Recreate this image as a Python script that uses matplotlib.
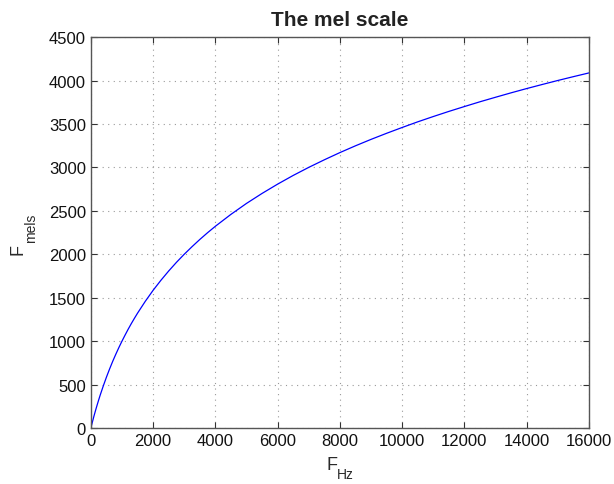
import matplotlib
matplotlib.use("Agg")
import matplotlib.pyplot as plt

freq_hz = [0, 25, 50, 100, 150, 200, 250, 300, 400, 500, 600, 700, 750, 800, 900,
           1000, 1100, 1200, 1300, 1400, 1500, 1750, 2000, 2250, 2500, 2750, 3000,
           3250, 3500, 3750, 4000, 4500, 5000, 5500, 6000, 6500, 7000, 7500, 8000,
           8500, 9000, 9500, 10000, 10500, 11000, 11500, 12000, 12500, 13000,
           13500, 14000, 14500, 15000, 15500, 16000]
mels = [0, 36, 70, 138, 202, 263, 322, 379, 485, 585, 678, 766, 807, 848, 926,
        1000, 1070, 1138, 1202, 1263, 1322, 1459, 1585, 1700, 1807, 1907, 2000,
        2087, 2170, 2248, 2322, 2459, 2585, 2700, 2807, 2907, 3000, 3087, 3170,
        3248, 3322, 3392, 3459, 3524, 3585, 3644, 3700, 3755, 3807,
        3858, 3907, 3954, 4000, 4044, 4087]
x_ticks = [0, 2000, 4000, 6000, 8000, 10000, 12000, 14000, 16000]
y_ticks = [0, 500, 1000, 1500, 2000, 2500, 3000, 3500, 4000, 4500]

plt.rcParams['font.family'] = ['Liberation Sans', 'DejaVu Sans']

W, H = 614, 485
fig = plt.figure(figsize=(6.14, 4.85), dpi=100)
ax = fig.add_axes([0.148, 0.1155, 0.811, 0.806])
ax.plot(freq_hz, mels, color='#0000ff', lw=0.9)
ax.set_xlim(0, 16000)
ax.set_ylim(0, 4500)
ax.set_xticks(x_ticks)
ax.set_yticks(y_ticks)
ax.grid(True, linestyle=(0, (1, 4)), color='#999999', lw=0.8)
ax.tick_params(direction='in', length=4, labelsize=12, color='#333333', width=0.8,
               labelcolor='#111111')
ax.tick_params(top=True, right=True)
for s in ax.spines.values():
    s.set_color('#555555')
    s.set_linewidth(1.0)
ax.set_title('The mel scale', fontsize=15, fontweight='bold', color='#222222', pad=9)

lab_col = '#2a2a2a'
kw = dict(rotation_mode='anchor', ha='left', va='baseline', color=lab_col)
# x label: F with lowered subscript Hz
fig.text(326 / W, 1 - 470 / H, 'F', fontsize=13, **kw)
fig.text(337 / W, 1 - 479 / H, 'Hz', fontsize=10, **kw)
# y label: F with lowered subscript mels
fig.text(23 / W, 1 - 255 / H, 'F', fontsize=13, rotation=90, **kw)
fig.text(35 / W, 1 - 243 / H, 'mels', fontsize=10, rotation=90, **kw)
fig.savefig('out.png', dpi=100)
